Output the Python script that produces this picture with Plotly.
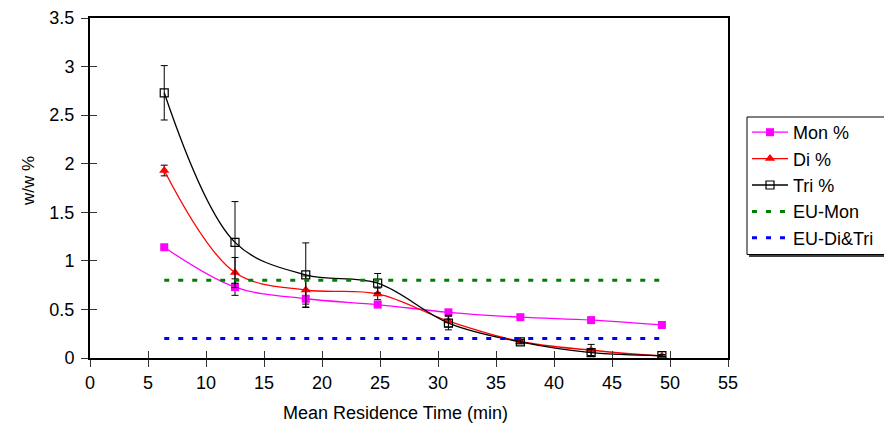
import plotly.graph_objects as go

# Mean residence time (min)
residence_time = [6.4, 12.5, 18.6, 24.8, 30.9, 37.1, 43.2, 49.3]

# Glyceride content, w/w %
mon_pct = [1.14, 0.73, 0.61, 0.55, 0.47, 0.42, 0.39, 0.34]
di_pct = [1.93, 0.88, 0.70, 0.66, 0.38, 0.17, 0.08, 0.02]
tri_pct = [2.73, 1.19, 0.855, 0.77, 0.36, 0.165, 0.055, 0.025]

# Standard deviations
mon_err = [0.01, 0.085, 0.09, 0.01, 0.01, 0.01, 0.01, 0.01]
di_err = [0.055, 0.155, 0.145, 0.06, 0.06, 0.02, 0.06, 0.01]
tri_err = [0.28, 0.42, 0.33, 0.10, 0.07, 0.02, 0.03, 0.01]

# EN 14214 limits
eu_mon_limit = 0.8
eu_di_tri_limit = 0.2

x_ticks = list(range(0, 60, 5))
y_ticks = [0, 0.5, 1, 1.5, 2, 2.5, 3, 3.5]

FONT = "Liberation Sans, Arial, sans-serif"

W, H = 884, 430
L, R, T, B = 90, 156, 18, 72
PW, PH = W - L - R, H - T - B


def px_x(p):
    return (p - L) / PW


def px_y(p):
    return (H - B - p) / PH


def err(vals):
    return dict(type="data", array=vals, visible=True, color="black",
                thickness=1, width=3.5)


fig = go.Figure()

fig.add_trace(go.Scatter(
    x=residence_time, y=mon_pct, name="Mon %", mode="lines+markers",
    line=dict(color="#FF00FF", width=1.3, shape="spline"),
    marker=dict(symbol="square", size=8, color="#FF00FF"),
    error_y=err(mon_err),
))
fig.add_trace(go.Scatter(
    x=residence_time, y=di_pct, name="Di %", mode="lines+markers",
    line=dict(color="#FF0000", width=1.3, shape="spline"),
    marker=dict(symbol="triangle-up", size=9, color="#FF0000"),
    error_y=err(di_err),
))
fig.add_trace(go.Scatter(
    x=residence_time, y=tri_pct, name="Tri %", mode="lines+markers",
    line=dict(color="black", width=1.3, shape="spline"),
    marker=dict(symbol="square-open", size=8, color="black",
                line=dict(width=1.2)),
    error_y=err(tri_err),
))
fig.add_trace(go.Scatter(
    x=[residence_time[0], residence_time[-1]],
    y=[eu_mon_limit, eu_mon_limit], name="EU-Mon", mode="lines",
    line=dict(color="#008000", width=3, dash="5px,9px"),
))
fig.add_trace(go.Scatter(
    x=[residence_time[0], residence_time[-1]],
    y=[eu_di_tri_limit, eu_di_tri_limit], name="EU-Di&Tri", mode="lines",
    line=dict(color="#0000FF", width=3, dash="5px,9px"),
))
# Empty trace that carries the overlay axes used for the inner tick halves
fig.add_trace(go.Scatter(x=[], y=[], xaxis="x2", yaxis="y2",
                         showlegend=False, hoverinfo="skip"))

axis_common = dict(showgrid=False, zeroline=False, ticks="outside",
                   ticklen=7, tickwidth=1, tickcolor="#333",
                   showline=True, linecolor="black", linewidth=2,
                   mirror=True,
                   tickfont=dict(family=FONT, size=18, color="black"))

fig.update_layout(
    width=W, height=H,
    margin=dict(l=L, r=R, t=T, b=B, autoexpand=False),
    paper_bgcolor="white", plot_bgcolor="white",
    font=dict(family=FONT, size=18, color="black"),
    xaxis=dict(range=[0, 55], tickvals=x_ticks, **axis_common),
    yaxis=dict(range=[0, 3.5], tickvals=y_ticks, ticklabelstandoff=3,
               **axis_common),
    xaxis2=dict(range=[0, 55], tickvals=x_ticks, overlaying="x",
                anchor="y", ticks="inside", ticklen=7, tickwidth=1,
                tickcolor="#333", showticklabels=False, showgrid=False,
                zeroline=False, showline=False),
    yaxis2=dict(range=[0, 3.5], tickvals=y_ticks, overlaying="y",
                anchor="x", ticks="inside", ticklen=7, tickwidth=1,
                tickcolor="#333", showticklabels=False, showgrid=False,
                zeroline=False, showline=False),
    showlegend=True,
    legend=dict(
        x=px_x(747), y=px_y(114), xanchor="left", yanchor="top",
        xref="paper", yref="paper",
        bgcolor="rgba(0,0,0,0)", borderwidth=0,
        font=dict(family=FONT, size=18, color="black"),
        itemwidth=36, traceorder="normal",
    ),
    shapes=[
        # legend drop shadow
        dict(type="rect", xref="paper", yref="paper",
             x0=px_x(749), x1=px_x(900), y0=px_y(257), y1=px_y(119),
             fillcolor="#404040", line=dict(width=0), layer="above"),
        # legend frame
        dict(type="rect", xref="paper", yref="paper",
             x0=px_x(747), x1=px_x(898), y0=px_y(254.5), y1=px_y(117),
             fillcolor="white", line=dict(color="black", width=1),
             layer="above"),
    ],
    annotations=[
        dict(text="Mean Residence Time (min)", xref="paper", yref="paper",
             x=px_x(395.5), y=px_y(413), xanchor="center", yanchor="middle",
             showarrow=False, font=dict(family=FONT, size=18)),
        dict(text="w/w %", xref="paper", yref="paper",
             x=px_x(28), y=px_y(181), xanchor="center", yanchor="middle",
             textangle=-90, showarrow=False, font=dict(family=FONT, size=17)),
    ],
)

fig.write_html("out.html")
